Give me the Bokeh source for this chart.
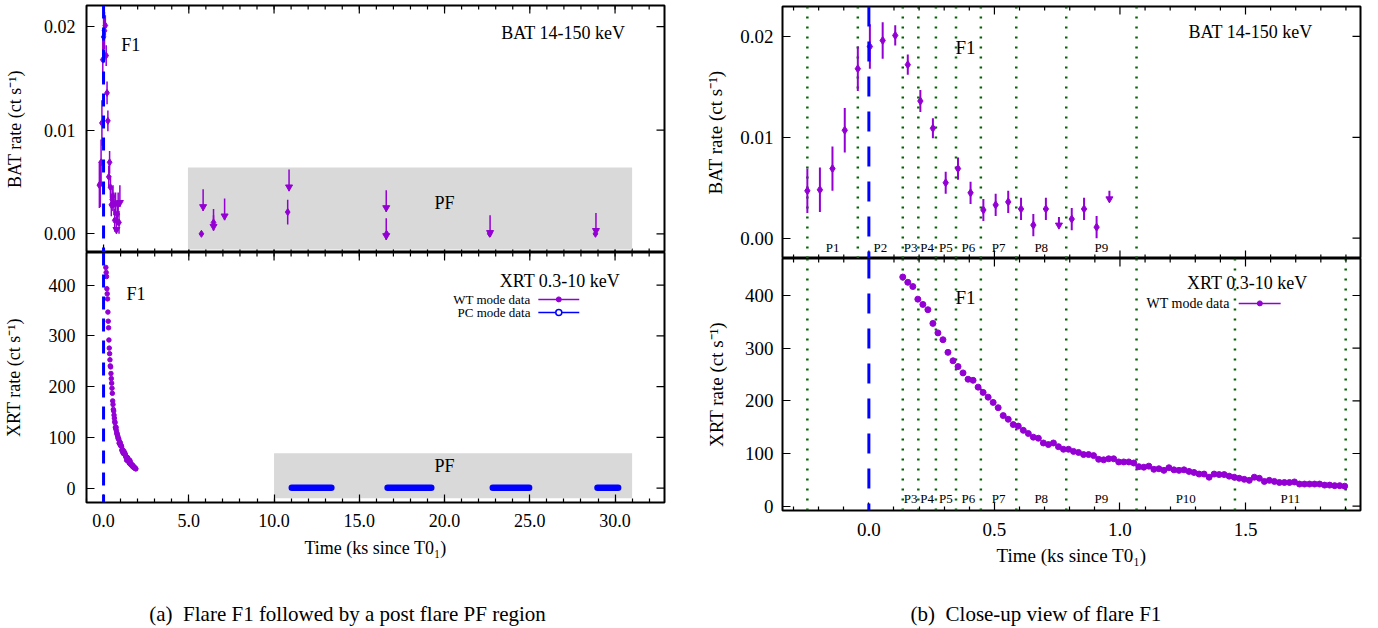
import numpy as np
from bokeh.plotting import figure
from bokeh.layouts import row, column
from bokeh.models import (Range1d, FixedTicker, PrintfTickFormatter, Label, Span)
from bokeh.embed import file_html
from bokeh.resources import INLINE

FONT = "Liberation Serif"
PURPLE = "#9400d3"
BLUE = "#0000ff"
GREEN = "#006400"
GREY = "#d9d9d9"

# ---------------- data ----------------
# BAT 14-150 keV, flare F1 (ks since T0_1, ct/s)
bat_t = [-0.245, -0.195, -0.145, -0.096, -0.044, 0.004, 0.055, 0.105, 0.155, 0.205,
         0.255, 0.306, 0.355, 0.405, 0.456, 0.505, 0.555, 0.606, 0.655, 0.705,
         0.808, 0.857, 0.907]
bat_rate = [0.0047, 0.0048, 0.0069, 0.0107, 0.0168, 0.0190, 0.0196, 0.0201, 0.0172, 0.0136,
            0.0109, 0.0055, 0.0069, 0.0045, 0.0028, 0.0033, 0.0036, 0.0029, 0.0013, 0.0029,
            0.0019, 0.0029, 0.0011]
bat_err = [0.0022, 0.0022, 0.0022, 0.0022, 0.0022, 0.0022, 0.0018, 0.0010, 0.0010, 0.0011,
           0.0010, 0.0011, 0.0011, 0.0011, 0.0011, 0.0011, 0.0011, 0.0011, 0.0011, 0.0011,
           0.0011, 0.0011, 0.0011]
bat_ul_t = [0.757, 0.958]
bat_ul = [0.0021, 0.0047]

# BAT, post-flare region
pf_bat_t = [5.74, 6.45, 10.8, 16.6, 22.65, 28.85]
pf_bat_rate = [0.0, 0.0011, 0.0021, 0.0, 0.0, 0.0]
pf_bat_err = [0.0002, 0.0007, 0.0012, 0.0002, 0.0002, 0.0002]
pf_ul_t = [5.84, 6.45, 7.1, 10.88, 16.58, 16.58, 22.67, 28.88]
pf_ul = [0.0043, 0.0024, 0.0034, 0.0062, 0.0042, 0.0015, 0.0018, 0.0020]

# XRT 0.3-10 keV, WT mode
wt_t = [0.135, 0.155, 0.175, 0.195, 0.215, 0.235, 0.255, 0.275, 0.295, 0.315,
        0.335, 0.355, 0.375, 0.395, 0.415, 0.435, 0.455, 0.475, 0.495, 0.515,
        0.535, 0.555, 0.575, 0.595, 0.615, 0.635, 0.655, 0.675, 0.695, 0.715,
        0.735, 0.755, 0.775, 0.795, 0.815, 0.835, 0.855, 0.875, 0.895, 0.915,
        0.935, 0.955, 0.975, 0.995, 1.015, 1.035, 1.055, 1.075, 1.095, 1.115,
        1.135, 1.155, 1.175, 1.195, 1.215, 1.235, 1.255, 1.275, 1.295, 1.315,
        1.335, 1.355, 1.375, 1.395, 1.415, 1.435, 1.455, 1.475, 1.495, 1.515,
        1.535, 1.555, 1.575, 1.595, 1.615, 1.635, 1.655, 1.675, 1.695, 1.715,
        1.735, 1.755, 1.775, 1.795, 1.815, 1.835, 1.855, 1.875, 1.895]
wt_rate = [435, 425, 417, 393, 383, 373, 347, 329, 316, 292,
           276, 265, 253, 241, 239, 226, 216, 207, 197, 187,
           172, 165, 155, 152, 144, 138, 131, 129, 120, 117,
           120, 113, 108, 108, 104, 102, 98, 98, 96, 89,
           88, 90, 90, 84, 84, 84, 82, 75, 74, 76,
           70, 71, 68, 73, 69, 68, 69, 66, 64, 61,
           61, 55, 61, 60, 60, 57, 55, 53, 51, 49,
           55, 53, 47, 49, 47, 45, 45, 45, 46, 42,
           42, 42, 42, 42, 40, 40, 39, 39, 38]

# XRT PC mode data (observation stretches in the PF region)
pc_start = [11.04, 16.66, 22.83, 28.97]
pc_end = [13.36, 19.22, 24.96, 30.18]
pc_rate = [1.0, 1.0, 1.0, 1.0]

# PF shaded regions: [x0, x1, y0, y1]
pf_box_bat = [4.95, 31.0, -0.0015, 0.0064]
pf_box_xrt = [10.0, 31.0, -20.0, 69.0]

# time-resolved intervals
bat_bounds = [-0.245, -0.044, 0.135, 0.197, 0.267, 0.347, 0.446, 0.587, 0.786, 1.066]
bat_plabels = ["P1", "P2", "P3", "P4", "P5", "P6", "P7", "P8", "P9"]
xrt_bounds = [0.135, 0.197, 0.267, 0.347, 0.446, 0.587, 0.786, 1.066, 1.458, 1.899]
xrt_extra = [-0.245]
xrt_plabels = ["P3", "P4", "P5", "P6", "P7", "P8", "P9", "P10", "P11"]

# ticks
left_xmajor = [0, 5, 10, 15, 20, 25, 30]
left_xminor = list(range(-1, 33))
right_xmajor = [0.0, 0.5, 1.0, 1.5]
right_xminor = [-0.3, -0.2, -0.1, 0.1, 0.2, 0.3, 0.4, 0.6, 0.7, 0.8, 0.9,
                1.1, 1.2, 1.3, 1.4, 1.6, 1.7, 1.8, 1.9]
bat_yticks = [0.0, 0.01, 0.02]
xrt_yticks = [0, 100, 200, 300, 400]

XLABEL = "Time (ks since T0\u2081)"
BAT_YLABEL = "BAT rate (ct s\u207b\u00b9)"
XRT_YLABEL = "XRT rate (ct s\u207b\u00b9)"
CAPTION_A = "(a)\u2002Flare F1 followed by a post flare PF region"
CAPTION_B = "(b)\u2002Close-up view of flare F1"


# ---------------- helpers ----------------
def base_fig(w, h, xr, yr, left, right, top, bottom, with_x):
    p = figure(width=w, height=h, x_range=Range1d(*xr), y_range=Range1d(*yr),
               output_backend="svg", toolbar_location=None,
               x_axis_location="below" if with_x else None,
               min_border_left=left, min_border_right=right,
               min_border_top=top, min_border_bottom=bottom)
    p.grid.visible = False
    p.outline_line_color = "black"
    p.outline_line_width = 2
    p.outline_line_alpha = 1.0
    p.background_fill_color = "white"
    p.border_fill_color = "white"
    return p


def caption_fig(w, h, xr, left, right, text, x, y):
    """A bare figure (frame aligned with the plots above) that carries the caption."""
    c = figure(width=w, height=h, x_range=Range1d(*xr), y_range=Range1d(0, h),
               output_backend="svg", toolbar_location=None,
               x_axis_location=None, y_axis_location=None,
               min_border_left=left, min_border_right=right,
               min_border_top=0, min_border_bottom=0)
    c.grid.visible = False
    c.outline_line_color = None
    c.background_fill_color = "white"
    c.border_fill_color = "white"
    c.add_layout(Label(x=x, y=y, text=text, text_font=FONT, text_font_size="21px",
                       text_align="left", text_baseline="alphabetic", text_color="black"))
    return c


def style_axis(ax, major, minor, fmt, size, standoff):
    ax.ticker = FixedTicker(ticks=major, minor_ticks=minor)
    ax.formatter = PrintfTickFormatter(format=fmt)
    ax.major_tick_in = 8
    ax.major_tick_out = 0
    ax.minor_tick_in = 4
    ax.minor_tick_out = 0
    ax.major_tick_line_color = "black"
    ax.minor_tick_line_color = "black" if minor else None
    ax.major_tick_line_width = 1.2
    ax.minor_tick_line_width = 1.2
    ax.axis_line_color = None
    ax.major_label_text_font = FONT
    ax.major_label_text_color = "black"
    ax.major_label_text_font_size = size
    ax.major_label_standoff = standoff


def label_axis(ax, lab, size, st):
    ax.axis_label = lab
    ax.axis_label_text_font = FONT
    ax.axis_label_text_font_size = size
    ax.axis_label_text_font_style = "normal"
    ax.axis_label_text_color = "black"
    ax.axis_label_standoff = st


def mirror_ticks(p, xr, yr, xmaj, xmin, ymaj, bottom):
    """Inward tick marks on the frame edges that carry no labelled axis."""
    edges = [yr[1]] + ([yr[0]] if bottom else [])
    for ye in edges:
        p.scatter(xmaj, [ye] * len(xmaj), marker="dash", angle=np.pi / 2, size=16,
                  line_color="black", line_width=1.2)
        p.scatter(xmin, [ye] * len(xmin), marker="dash", angle=np.pi / 2, size=8,
                  line_color="black", line_width=1.2)
    p.scatter([xr[1]] * len(ymaj), ymaj, marker="dash", size=16,
              line_color="black", line_width=1.2)


def draw_bat(p, t, r, e, ul_t, ul, ul_len, msize, lw):
    t = np.array(t); r = np.array(r); e = np.array(e)
    p.segment(t, r - e, t, r + e, line_color=PURPLE, line_width=lw)
    p.scatter(t, r, marker="diamond", size=msize, color=PURPLE)
    ul_t = np.array(ul_t); ul = np.array(ul)
    p.segment(ul_t, ul, ul_t, ul - ul_len, line_color=PURPLE, line_width=lw)
    p.scatter(ul_t, ul - ul_len * 0.8, marker="inverted_triangle", size=7, color=PURPLE)


def add_label(p, x, y, text, size, align="center", baseline="middle"):
    p.add_layout(Label(x=x, y=y, text=text, text_font=FONT, text_font_size=size,
                       text_align=align, text_baseline=baseline, text_color="black"))


def add_vlines(p, xs, color, dash, width, level):
    for x in xs:
        p.add_layout(Span(location=x, dimension="height", line_color=color,
                          line_dash=dash, line_width=width, level=level))


def add_plabels(p, bounds, labels, y):
    for i, lab in enumerate(labels):
        add_label(p, 0.5 * (bounds[i] + bounds[i + 1]), y, lab, "13px")


# ---------------- (a) left column ----------------
LW = 690
LX = (-1.0, 32.9)
Y1 = (-0.0018, 0.02203)
p1 = base_fig(LW, 252, LX, Y1, 84, 26, 5, 0, False)
style_axis(p1.yaxis[0], bat_yticks, [], "%.2f", "18px", 11)
label_axis(p1.yaxis[0], BAT_YLABEL, "18px", 16)
mirror_ticks(p1, LX, Y1, left_xmajor, left_xminor, bat_yticks, True)
p1.quad(left=[pf_box_bat[0]], right=[pf_box_bat[1]], bottom=[pf_box_bat[2]],
        top=[pf_box_bat[3]], fill_color=GREY, line_color=None)
draw_bat(p1, bat_t, bat_rate, bat_err, bat_ul_t, bat_ul, 0.0021, 7, 1.5)
draw_bat(p1, pf_bat_t, pf_bat_rate, pf_bat_err, pf_ul_t, pf_ul, 0.0021, 7, 1.5)
add_vlines(p1, [0.0], BLUE, "13 9", 3, "annotation")
add_label(p1, 1.6, 0.0182, "F1", "18px")
add_label(p1, 30.6, 0.0194, "BAT 14-150 keV", "18px", "right")
add_label(p1, 20.0, 0.0030, "PF", "18px")

Y2 = (-28.2, 464.4)
p2 = base_fig(LW, 326, LX, Y2, 84, 26, 0, 76, True)
style_axis(p2.xaxis[0], left_xmajor, left_xminor, "%.1f", "18px", 11)
label_axis(p2.xaxis[0], XLABEL, "18px", 8)
style_axis(p2.yaxis[0], xrt_yticks, [], "%d", "18px", 11)
label_axis(p2.yaxis[0], XRT_YLABEL, "18px", 22)
mirror_ticks(p2, LX, Y2, left_xmajor, left_xminor, xrt_yticks, False)
p2.quad(left=[pf_box_xrt[0]], right=[pf_box_xrt[1]], bottom=[pf_box_xrt[2]],
        top=[pf_box_xrt[3]], fill_color=GREY, line_color=None)
p2.segment(pc_start, pc_rate, pc_end, pc_rate, line_color=BLUE, line_width=6.5,
           line_cap="round")
p2.scatter(wt_t, wt_rate, marker="circle", size=4.5, color=PURPLE)
add_vlines(p2, [0.0], BLUE, "13 9", 3, "annotation")
add_label(p2, 1.9, 383, "F1", "18px")
add_label(p2, 30.3, 409, "XRT 0.3-10 keV", "18px", "right")
add_label(p2, 20.0, 43, "PF", "18px")
# key
add_label(p2, 25.04, 372, "WT mode data", "13px", "right")
add_label(p2, 25.04, 346, "PC mode data", "13px", "right")
p2.segment([25.5], [372], [27.9], [372], line_color=PURPLE, line_width=1.5)
p2.scatter([26.7], [372], marker="circle", size=5, color=PURPLE)
p2.segment([25.5], [346], [27.9], [346], line_color=BLUE, line_width=1.5)
p2.scatter([26.7], [346], marker="circle", size=6, fill_color="white",
           line_color=BLUE, line_width=1.5)
capA = caption_fig(LW, 50, LX, 84, 26, CAPTION_A, 2.68, 15)

# ---------------- (b) right column ----------------
RW = 688
RX = (-0.344, 1.958)
Y3 = (-0.00201, 0.02297)
p3 = base_fig(RW, 258, RX, Y3, 92, 18, 6, 0, False)
style_axis(p3.yaxis[0], bat_yticks, [], "%.2f", "19px", 9)
label_axis(p3.yaxis[0], BAT_YLABEL, "19px", 11)
mirror_ticks(p3, RX, Y3, right_xmajor, right_xminor, bat_yticks, True)
add_vlines(p3, bat_bounds, GREEN, "2 8", 2.5, "underlay")
draw_bat(p3, bat_t, bat_rate, bat_err, bat_ul_t, bat_ul, 0.0010, 8, 2)
add_vlines(p3, [0.0], BLUE, "20 15", 3, "annotation")
add_plabels(p3, bat_bounds, bat_plabels, -0.00092)
add_label(p3, 0.385, 0.0189, "F1", "19px")
add_label(p3, 1.767, 0.0204, "BAT 14-150 keV", "18px", "right")

Y4 = (-8.2, 470.2)
p4 = base_fig(RW, 320, RX, Y4, 92, 18, 0, 68, True)
style_axis(p4.xaxis[0], right_xmajor, right_xminor, "%.1f", "19px", 12)
label_axis(p4.xaxis[0], XLABEL, "19px", 6)
style_axis(p4.yaxis[0], xrt_yticks, [], "%d", "19px", 9)
label_axis(p4.yaxis[0], XRT_YLABEL, "19px", 15)
mirror_ticks(p4, RX, Y4, right_xmajor, right_xminor, xrt_yticks, False)
add_vlines(p4, xrt_extra + xrt_bounds, GREEN, "2 8", 2.5, "underlay")
p4.scatter(wt_t, wt_rate, marker="circle", size=6, color=PURPLE)
add_vlines(p4, [0.0], BLUE, "20 15", 3, "annotation")
add_plabels(p4, xrt_bounds, xrt_plabels, 14.6)
add_label(p4, 0.385, 396, "F1", "19px")
add_label(p4, 1.747, 423, "XRT 0.3-10 keV", "18px", "right")
add_label(p4, 1.437, 385, "WT mode data", "14px", "right")
p4.segment([1.473], [385], [1.64], [385], line_color=PURPLE, line_width=1.5)
p4.scatter([1.557], [385], marker="circle", size=5, color=PURPLE)
capB = caption_fig(RW, 50, RX, 92, 18, CAPTION_B, 0.166, 15)

layout = row(column(p1, p2, capA, spacing=0), column(p3, p4, capB, spacing=0), spacing=0)

open("out.html", "w").write(file_html(layout, INLINE))
